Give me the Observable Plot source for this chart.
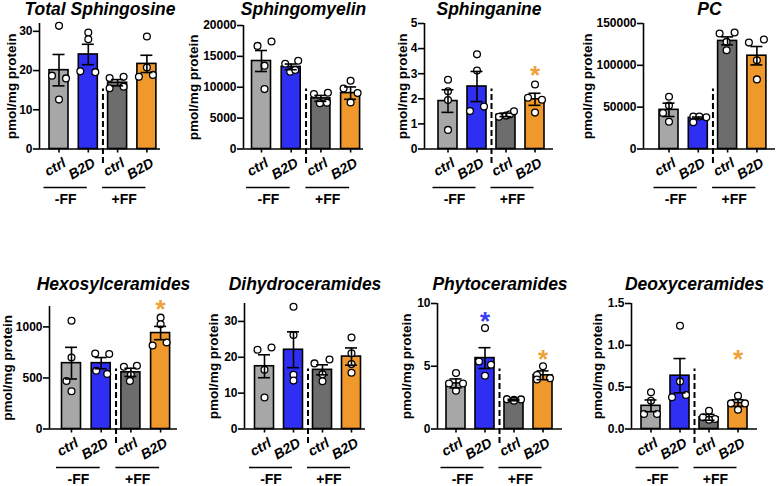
<!DOCTYPE html>
<html><head><meta charset="utf-8">
<script src="https://cdn.jsdelivr.net/npm/d3@7"></script>
<script src="https://cdn.jsdelivr.net/npm/@observablehq/plot@0.6"></script>
<style>
body{margin:0;background:#fff;}
#wrap{position:relative;width:776px;height:486px;overflow:hidden;background:#fff;}
#wrap svg{position:absolute;overflow:visible;}
</style></head><body><div id="wrap"></div>
<script>
// ---------- DATA ----------
const titles = ["Total Sphingosine","Sphingomyelin","Sphinganine","PC",
                "Hexosylceramides","Dihydroceramides","Phytoceramides","Deoxyceramides"];
const yLabel = "pmol/mg protein";
const conditions = ["ctrl","B2D","ctrl","B2D"];
const groups = ["-FF","+FF"];
const yMax = [32, 20000, 5, 150000, 1200, 35, 10, 1.5];
const yTicks = [[0,10,20,30],[0,5000,10000,15000,20000],[0,1,2,3,4,5],[0,50000,100000,150000],
                [0,500,1000],[0,10,20,30],[0,5,10],[0,0.5,1.0,1.5]];
const means = [
  [20.1, 24.1, 16.9, 21.7],
  [14250, 13300, 8200, 9050],
  [1.91, 2.49, 1.36, 1.98],
  [46800, 37200, 129200, 111500],
  [645, 645, 555, 940],
  [17.5, 22.1, 16.5, 20.2],
  [3.63, 5.65, 2.31, 4.28],
  [0.277, 0.637, 0.14, 0.31]
];
const sems = [
  [4.0, 2.6, 0.8, 2.2],
  [1700, 460, 480, 1000],
  [0.45, 0.6, 0.07, 0.24],
  [8000, 1000, 4800, 11000],
  [155, 55, 40, 65],
  [3.2, 5.0, 1.4, 2.4],
  [0.36, 0.83, 0.06, 0.35],
  [0.07, 0.205, 0.035, 0.04]
];
const points = [
  [[31.4,18.7,18.0,12.6],[29.7,28.0,19.8,19.6],[18.1,18.4,15.9,15.5],[28.7,20.8,18.4,18.9]],
  [[16700,17400,13500,9700],[13800,14300,12500,12800],[8900,9100,7400,7500],[9800,11050,9050,7550]],
  [[2.76,2.3,1.95,0.76],[3.77,3.13,1.51,1.69],[1.28,1.33,1.38,1.5],[2.57,2.04,1.96,1.45]],
  [[62500,52000,43000,32500],[38800,38800,38000,32000],[138000,139200,128000,118000],[127200,130800,106000,83200]],
  [[1060,700,470,370],[740,735,570,540],[610,620,530,470],[1091,1026,818,847]],
  [[22.1,22.75,16.5,8.8],[34.1,26.2,15.1,13.5],[18.3,19.4,15.3,13.3],[25.5,21.1,18.1,15.7]],
  [[4.46,3.63,3.63,3.05],[8.04,5.38,5.12,4.24],[2.38,2.33,2.36,2.26],[5.0,4.3,4.05,3.95]],
  [[0.438,0.338,0.179,0.179],[1.234,0.569,0.378,0.406],[0.219,0.14,0.12,0.11],[0.398,0.306,0.306,0.231]]
];
// significance asterisks: [panel, bar index, value]
const stars = [[2,3,3.2],[4,3,1232],[6,1,9.1],[6,3,6.04],[7,3,0.906]];

// ---------- LAYOUT / STYLE ----------
const pointJitter = [ // horizontal spread of dots, px
  [[0,-7,7,0],[0,0,-8,7],[-8,6,6,-8],[0,0,-8,6]],
  [[-4,10,3,3],[-6,7,-1,4],[-7,7,-1,6],[-7,0,7,0]],
  [[0,0,0,0],[0,0,-7,7],[-7,0,4,8],[0,-7,7,0]],
  [[0,0,-6,0],[-5,1,8,-5],[-8,7,-1,-1],[-8,7,0,0]],
  [[0,0,-5,0],[-6,8,-5,6],[-7,6,0,-1],[0,0,-8,6]],
  [[-7,7,0,0],[0,0,0,0],[-8,7,0,0],[0,0,0,0]],
  [[0,-7,7,0],[0,-6,6,0],[-7,0,7,0],[0,-6,7,-6]],
  [[0,0,-7,6],[0,0,-8,6],[0,-6,6,0],[0,-7,7,0]]
];
const layout = [
  {col:0,row:0, axisX:39,  axisEnd:160, firstCenter:58.5,  step:29.3, yTop:23,  labelX:12.5},
  {col:1,row:0, axisX:243, axisEnd:363, firstCenter:261,   step:29.7, yTop:25,  labelX:193},
  {col:2,row:0, axisX:424, axisEnd:553, firstCenter:447.5, step:29,   yTop:23,  labelX:406},
  {col:3,row:0, axisX:643, axisEnd:775, firstCenter:668.5, step:29.3, yTop:23,  labelX:587.5},
  {col:0,row:1, axisX:49,  axisEnd:177, firstCenter:71,    step:29.7, yTop:306, labelX:14},
  {col:1,row:1, axisX:244, axisEnd:365, firstCenter:264,   step:29,   yTop:303, labelX:213},
  {col:2,row:1, axisX:437, axisEnd:562, firstCenter:455.5, step:29,   yTop:303, labelX:406},
  {col:3,row:1, axisX:631, axisEnd:757, firstCenter:650.5, step:29,   yTop:303, labelX:597}
];
const colLeft = [0,190,385,575], colWidth = [190,195,190,201];
const rowTop = [0,262], rowHeight = [210,224], rowY0 = [148.5,428.5], rowTitleBase = [14,289.5];
const barColors = ["#A7A7A7","#2F2FF4","#6D6D6D","#EF982C"];
const starColors = ["#A7A7A7","#3A3AF2","#6D6D6D","#F0A23A"];
const FONT = "'Liberation Sans', Arial, Helvetica, sans-serif";
const SW = 1.6, BAR_W = 19, CAP_W = 12, TICK_FS = 12, TICK_SIZE = 6, TICK_PAD = 1, LABEL_FS = 13.5;

const wrap = document.getElementById("wrap");

layout.forEach((L, k) => {
  const left = colLeft[L.col], top = rowTop[L.row];
  const W = colWidth[L.col], H = rowHeight[L.row], y0 = rowY0[L.row];
  const step = L.step;
  const xa = 0.5 - (L.firstCenter - L.axisX) / step;
  const xb = 0.5 + (L.axisEnd - L.firstCenter) / step;
  const half = BAR_W / 2 / step, cap = CAP_W / 2 / step;
  const ymax = yMax[k];
  const pxPerUnit = (y0 - L.yTop) / ymax;

  const bars = conditions.map((c, i) => ({i, c, mean: means[k][i], sem: sems[k][i], color: barColors[i]}));
  const dots = points[k].flatMap((vals, i) => vals.map((v, j) => ({x: i + 0.5 + pointJitter[k][i][j] / step, y: v})));
  const grp = groups.map((g, gi) => ({g, a: gi*2 + 0.5 - 15/step, b: gi*2 + 1.5 - 1/step, m: gi*2 + 1 - 8/step}));
  const st = stars.filter(s => s[0] === k).map(s => ({x: s[1] + 0.5, y: s[2], color: starColors[s[1]]}));
  const fmt = k === 7 ? d3.format(".1f") : d3.format("d");
  // keep the axis title clear of the widest tick label
  const tickLabW = d3.max(yTicks[k], t => [...fmt(t)].reduce((s, ch) => s + (ch === "." ? 0.278 : 0.556), 0)) * TICK_FS;
  const labelX = Math.min(L.labelX, L.axisX - TICK_SIZE - TICK_PAD - tickLabW - 0.55 * LABEL_FS - 0.5);

  const svg = Plot.plot({
    width: W, height: H,
    marginLeft: L.axisX - left, marginRight: left + W - L.axisEnd,
    marginTop: L.yTop - top, marginBottom: top + H - y0,
    x: {domain: [xa, xb], axis: null},
    y: {domain: [0, ymax], axis: null},
    style: {fontFamily: FONT, fontWeight: "bold", color: "black", background: "transparent"},
    marks: [
      Plot.rectY(bars, {x1: d => d.i + 0.5 - half, x2: d => d.i + 0.5 + half, y1: 0, y2: "mean",
        fill: "color", stroke: "black", strokeWidth: SW}),
      Plot.dot(dots, {x: "x", y: "y", r: 3.4, fill: "white", stroke: "black", strokeWidth: 1.3}),
      Plot.ruleX(bars, {x: d => d.i + 0.5, y1: d => d.mean - d.sem, y2: d => d.mean + d.sem, stroke: "black", strokeWidth: SW}),
      Plot.ruleY(bars, {x1: d => d.i + 0.5 - cap, x2: d => d.i + 0.5 + cap, y: d => d.mean + d.sem, stroke: "black", strokeWidth: SW}),
      Plot.ruleY(bars, {x1: d => d.i + 0.5 - cap, x2: d => d.i + 0.5 + cap, y: d => d.mean - d.sem, stroke: "black", strokeWidth: SW}),
      // axes
      Plot.ruleX([xa], {stroke: "black", strokeWidth: SW}),
      Plot.ruleY([0], {stroke: "black", strokeWidth: SW}),
      Plot.axisY({ticks: yTicks[k], tickFormat: fmt, tickSize: TICK_SIZE, tickPadding: TICK_PAD, strokeWidth: SW,
        fontSize: TICK_FS, fontWeight: "bold", label: null}),
      Plot.axisX({ticks: [0.5,1.5,2.5,3.5], tickSize: 4, strokeWidth: SW, tickFormat: () => "", label: null}),
      // category labels
      Plot.text(bars, {x: d => d.i + 0.5, y: 0, text: "c", rotate: -30, textAnchor: "end", lineAnchor: "top",
        dx: 3, dy: 8, fontSize: 14, fontStyle: "italic", fontWeight: "bold"}),
      // dashed separator
      Plot.ruleX([2], {y1: -14.5 / pxPerUnit, y2: 60 / pxPerUnit, stroke: "black", strokeWidth: 2, strokeDasharray: "6,3"}),
      // group lines and labels
      Plot.ruleY(grp, {x1: "a", x2: "b", y: 0, dy: 38.5, stroke: "black", strokeWidth: SW}),
      Plot.text(grp, {x: "m", y: 0, text: "g", dy: 54.5, lineAnchor: "bottom", fontSize: 14, fontWeight: "bold"}),
      // asterisks
      Plot.text(st, {x: "x", y: "y", text: () => "*", fill: "color", fontSize: 26, fontWeight: "bold", lineAnchor: "bottom", dy: 15}),
      // title
      Plot.text([titles[k]], {frameAnchor: "top", dy: rowTitleBase[L.row] - L.yTop, lineAnchor: "bottom",
        fontSize: 17.5, fontStyle: "italic", fontWeight: "bold"}),
      // y label
      Plot.text([yLabel], {frameAnchor: "left", rotate: -90, dx: labelX - L.axisX, textAnchor: "middle",
        lineAnchor: "middle", fontSize: LABEL_FS, fontWeight: "bold"})
    ]
  });
  svg.style.left = left + "px";
  svg.style.top = top + "px";
  wrap.appendChild(svg);
});
</script></body></html>
